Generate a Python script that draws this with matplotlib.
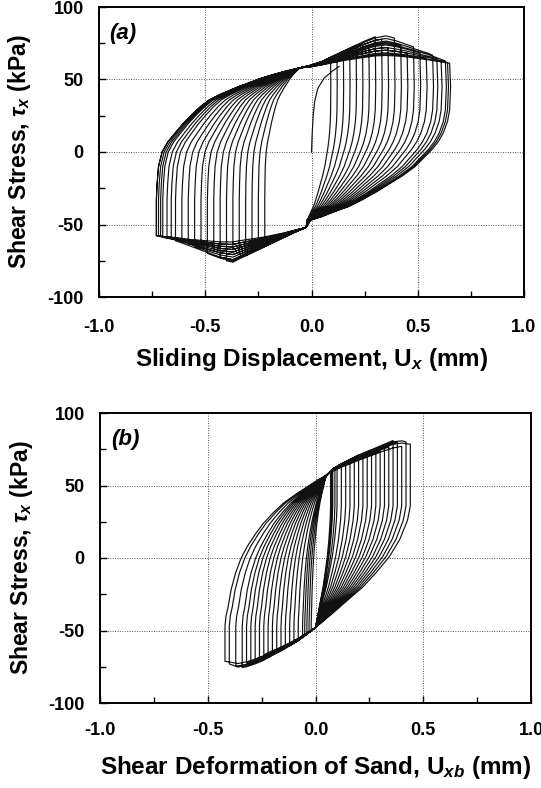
import numpy as np
import matplotlib
matplotlib.use("Agg")
import matplotlib.pyplot as plt
from matplotlib.ticker import AutoMinorLocator

plt.rcParams['font.family'] = 'Liberation Sans'
plt.rcParams['font.weight'] = 'bold'
plt.rcParams['axes.unicode_minus'] = False
plt.rcParams['mathtext.fontset'] = 'custom'
plt.rcParams['mathtext.rm'] = 'Liberation Sans:bold'
plt.rcParams['mathtext.it'] = 'Liberation Sans:bold:italic'
plt.rcParams['mathtext.bf'] = 'Liberation Sans:bold'

# ---- panel (a): sliding displacement ----
# reversal points of each cycle (mm)
a_xR = [0.09, 0.12, 0.15, 0.18, 0.21, 0.24, 0.27, 0.30, 0.33, 0.36, 0.39,
        0.42, 0.45, 0.48, 0.51, 0.54, 0.57, 0.59, 0.61, 0.63, 0.64, 0.65]
a_xL = [-0.22, -0.25, -0.28, -0.31, -0.34, -0.37, -0.40, -0.43, -0.46, -0.49, -0.52,
        -0.55, -0.58, -0.61, -0.64, -0.66, -0.68, -0.70, -0.71, -0.72, -0.73, -0.73]
# how far each branch climbs towards the outer envelope (0 = low band, 1 = envelope)
a_kup = [0.5, 0.8, 1.0, 0.7, 1.0, 0.9, 0.6, 1.0, 0.85, 0.5, 0.95,
         0.7, 0.4, 0.85, 0.6, 0.3, 0.75, 0.5, 0.25, 0.65, 0.4, 0.2]
a_klo = [0.6, 0.9, 0.7, 1.0, 0.8, 0.5, 1.0, 0.9, 0.6, 0.95, 0.4,
         0.8, 0.7, 0.3, 0.9, 0.5, 0.2, 0.7, 0.4, 0.6, 0.3, 0.5]
a_pinch_up = (-0.055, 58.0)
a_pinch_lo = (-0.025, -52.0)
# upper plateau (from upper pinch to the right)
a_up_x = [-0.055, 0.0, 0.05, 0.10, 0.15, 0.20, 0.25, 0.30, 0.35, 0.40, 0.45, 0.50, 0.55, 0.60, 0.65, 0.67]
a_up_hi = [58, 60, 62.5, 66, 69.5, 73, 76.5, 79.5, 81, 79, 76, 73, 70, 66, 62, 61]
a_up_lo = [58, 58.5, 59.5, 60.5, 61.5, 62, 62.5, 63, 63, 63, 63, 62.5, 62, 61.5, 61, 61]
# lower plateau (from lower pinch to the left)
a_lo_x = [-0.025, -0.08, -0.13, -0.18, -0.23, -0.28, -0.33, -0.37, -0.43, -0.48, -0.53, -0.58, -0.63, -0.68, -0.73, -0.75]
a_lo_hi = [-52, -55.5, -59, -62.5, -66, -69.5, -73, -76, -74, -71, -68, -65, -62, -60, -58, -57.5]
a_lo_lo = [-52, -53.5, -55, -56, -57, -57.5, -58, -58.5, -59, -59, -59, -59, -58.5, -58, -57.5, -57]
# loading branch shape (fraction of the way from left reversal to upper pinch)
a_load_u = [0.0, 0.005, 0.015, 0.04, 0.08, 0.13, 0.19, 0.25, 0.31, 0.37, 0.44,
            0.50, 0.57, 0.64, 0.72, 0.80, 0.90, 1.0]
a_load_t = [-33, -22, -10, 0, 7, 13, 20, 26, 31.5, 36, 39.5,
            42, 45, 47.5, 50.5, 53, 55.7, 58]
# unloading branch shape (fraction of the way from right reversal to lower pinch)
a_unl_v = [-0.007, 0.0, 0.015, 0.045, 0.08, 0.12, 0.18, 0.24, 0.33, 0.42,
           0.51, 0.61, 0.70, 0.80, 0.89, 0.97, 1.0]
a_unl_t = [45, 29, 21, 13, 7, 2, -4, -10, -16.5, -22,
           -27.5, -33, -37.5, -41, -44.5, -47, -52]
# first loading from rest
a_init_x = [0.0, 0.003, 0.008, 0.015, 0.03, 0.06, 0.10, 0.13]
a_init_t = [0, 12, 25, 35, 44, 51, 56, 59]

# ---- panel (b): shear deformation of sand ----
b_xR = [0.07, 0.075, 0.08, 0.09, 0.10, 0.12, 0.14, 0.16, 0.18, 0.20, 0.22,
        0.24, 0.26, 0.28, 0.30, 0.32, 0.34, 0.36, 0.38, 0.40, 0.42, 0.44]
b_xL = [-0.02, -0.03, -0.04, -0.05, -0.06, -0.08, -0.10, -0.12, -0.14, -0.16, -0.18,
        -0.20, -0.22, -0.24, -0.26, -0.28, -0.30, -0.32, -0.34, -0.37, -0.40, -0.42]
b_kup = [0.4, 0.7, 0.5, 0.9, 0.6, 1.0, 0.7, 0.9, 0.5, 1.0, 0.8,
         0.6, 0.95, 0.7, 0.5, 0.9, 0.6, 1.0, 0.8, 0.4, 0.9, 0.7]
b_klo = [0.5, 0.8, 0.6, 1.0, 0.7, 0.9, 0.5, 1.0, 0.8, 0.6, 0.9,
         0.7, 1.0, 0.5, 0.8, 0.6, 0.9, 0.7, 1.0, 0.8, 0.9, 0.6]
b_pinch_up = (0.05, 57.0)
b_pinch_lo = (0.0, -48.0)
b_up_x = [0.05, 0.08, 0.12, 0.16, 0.20, 0.24, 0.28, 0.32, 0.36, 0.40, 0.44, 0.46]
b_up_hi = [57, 61.5, 65, 68, 71, 73.5, 76, 78.5, 81, 81.5, 80, 79]
b_up_lo = [57, 59, 61, 63, 65, 67, 69, 71, 72.5, 74, 75, 75]
b_lo_x = [0.0, -0.04, -0.08, -0.12, -0.16, -0.20, -0.24, -0.28, -0.32, -0.36, -0.40, -0.43]
b_lo_hi = [-48, -52.5, -57, -60.5, -64, -67, -70.5, -73, -75, -76, -73.5, -72]
b_lo_lo = [-48, -51, -54, -56.5, -59, -61, -63, -65, -66.5, -68, -69, -69.5]
b_load_u = [0.0, 0.01, 0.03, 0.06, 0.106, 0.16, 0.22, 0.30, 0.38, 0.48, 0.58, 0.70, 0.81, 0.91, 1.0]
b_load_t = [-47, -40, -34, -22, -10, 0, 8, 16.5, 24, 31.5, 38, 44, 49, 53.5, 57]
b_unl_v = [0.0, 0.03, 0.11, 0.22, 0.36, 0.50, 0.66, 0.80, 0.91, 1.0]
b_unl_t = [36, 26, 13, 1, -10, -20, -29, -37, -43, -48]

xticks = [-1.0, -0.5, 0.0, 0.5, 1.0]
yticks = [-100, -50, 0, 50, 100]


def plateau(gx, ghi, glo, k, x_end):
    gx = np.asarray(gx, float)
    gt = np.asarray(glo, float) + k * (np.asarray(ghi, float) - np.asarray(glo, float))
    s = np.sign(gx[-1] - gx[0])
    keep = (x_end - gx) * s > 0
    xs = np.append(gx[keep], x_end)
    o = np.argsort(gx)
    return xs, np.interp(xs, gx[o], gt[o])


def build_loops(xR, xL, kup, klo, up, lo, load, unl, p_up, p_lo):
    X, T = [], []
    for i in range(len(xR)):
        xs, ts = plateau(up[0], up[1], up[2], kup[i], xR[i])
        X += list(xs); T += list(ts)
        span = xR[i] - p_lo[0]
        X += list(xR[i] - np.asarray(unl[0]) * span); T += list(unl[1])
        xs, ts = plateau(lo[0], lo[1], lo[2], klo[i], xL[i])
        X += list(xs); T += list(ts)
        span = p_up[0] - xL[i]
        X += list(xL[i] + np.asarray(load[0]) * span); T += list(load[1])
    return X, T


def style_axes(ax, xlabel, label, ylab_x, xlab_y, tick_pad):
    ax.set_xlim(-1.0, 1.0)
    ax.set_ylim(-100, 100)
    ax.set_xticks(xticks)
    ax.set_yticks(yticks)
    ax.set_xticklabels(['%.1f' % v for v in xticks])
    ax.xaxis.set_minor_locator(AutoMinorLocator(2))
    ax.yaxis.set_minor_locator(AutoMinorLocator(2))
    ax.tick_params(which='both', direction='in', top=False, right=False, width=1.0)
    ax.tick_params(which='major', length=5, labelsize=13)
    ax.tick_params(which='minor', length=4)
    ax.tick_params(axis='x', pad=tick_pad)
    ax.tick_params(axis='y', pad=11)
    ax.grid(True, which='major', ls=(0, (1, 1.5)), lw=0.7, color='#555555')
    for sp in ax.spines.values():
        sp.set_linewidth(1.4)
    ax.set_xlabel(xlabel, fontsize=17.5, fontweight='bold', va='center')
    ax.set_ylabel(r'Shear Stress, $\tau_x$ (kPa)', fontsize=16.5, fontweight='bold', va='center')
    ax.yaxis.set_label_coords(ylab_x, 0.5)
    ax.xaxis.set_label_coords(0.5, xlab_y)
    ax.text(0.025, 0.91, label, transform=ax.transAxes, fontsize=16,
            fontweight='bold', fontstyle='italic', va='center')


fig = plt.figure(figsize=(5.41, 7.88), dpi=100)
ax1 = fig.add_axes([99 / 541, 1 - 297 / 788, 425 / 541, 290 / 788])
ax2 = fig.add_axes([100 / 541, 1 - 703 / 788, 431 / 541, 290 / 788])

xa, ta = build_loops(a_xR, a_xL, a_kup, a_klo,
                     (a_up_x, a_up_hi, a_up_lo), (a_lo_x, a_lo_hi, a_lo_lo),
                     (a_load_u, a_load_t), (a_unl_v, a_unl_t), a_pinch_up, a_pinch_lo)
ax1.plot(a_init_x, a_init_t, color='#111111', lw=0.85)
ax1.plot(xa, ta, color='#111111', lw=0.85, solid_joinstyle='round')

xb, tb = build_loops(b_xR, b_xL, b_kup, b_klo,
                     (b_up_x, b_up_hi, b_up_lo), (b_lo_x, b_lo_hi, b_lo_lo),
                     (b_load_u, b_load_t), (b_unl_v, b_unl_t), b_pinch_up, b_pinch_lo)
ax2.plot(xb, tb, color='#111111', lw=0.85, solid_joinstyle='round')

style_axes(ax1, r'Sliding Displacement, U$_x$ (mm)', '(a)', -0.186, -0.217, 16)
style_axes(ax2, r'Shear Deformation of Sand, U$_{xb}$ (mm)', '(b)', -0.181, -0.224, 14)

fig.savefig('out.png', dpi=100)
